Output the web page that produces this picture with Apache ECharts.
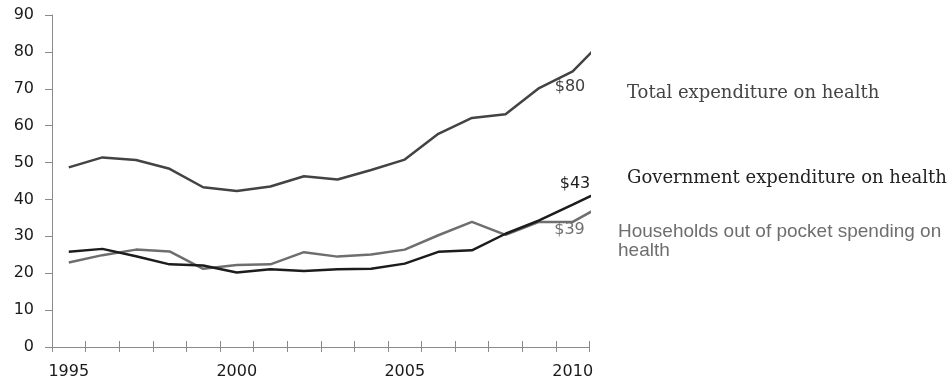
<!DOCTYPE html>
<html>
<head>
<meta charset="utf-8">
<script src="https://cdn.jsdelivr.net/npm/echarts@6/dist/echarts.min.js"></script>
<style>html,body{margin:0;padding:0;background:#fff}#c{width:950px;height:381px}</style>
</head>
<body>
<div id="c"></div>
<script>
// Data
var years = [1995,1996,1997,1998,1999,2000,2001,2002,2003,2004,2005,2006,2007,2008,2009,2010,2011];
var axisCategories = ['1995','1996','1997','1998','1999','2000','2001','2002','2003','2004','2005','2006','2007','2008','2009','2010'];
var totalExpenditure = [48.7,51.4,50.7,48.3,43.3,42.3,43.5,46.3,45.4,48.0,50.8,57.8,62.1,63.1,70.2,74.7,84.0];
var governmentExpenditure = [25.8,26.6,24.6,22.4,22.1,20.2,21.1,20.6,21.1,21.2,22.6,25.8,26.2,30.7,34.3,38.6,43.0];
var householdsSpending = [22.9,24.9,26.4,25.9,21.2,22.2,22.4,25.7,24.5,25.1,26.4,30.3,33.9,30.4,33.9,33.9,39.0];
var yTicks = [0,10,20,30,40,50,60,70,80,90];

function pairs(vals){ return years.map(function(y,i){ return [y, vals[i]]; }); }

var chart = echarts.init(document.getElementById('c'), null, {renderer:'canvas'});
var axisGray = '#8a8a8a';
chart.setOption({
  animation: false,
  backgroundColor: '#ffffff',
  grid: { left: 52, top: 15, right: 360.5, bottom: 34, containLabel: false },
  xAxis: [
    {
      type: 'category', data: axisCategories, position: 'bottom', boundaryGap: true,
      axisLine: { show: true, lineStyle: { color: axisGray, width: 1 } },
      axisTick: { show: true, inside: false, length: 5, interval: 0, lineStyle: { color: axisGray } },
      axisLabel: { show: true, interval: 4, margin: 17, color: '#1a1a1a', fontFamily: 'DejaVu Sans', fontSize: 16 },
      splitLine: { show: false }
    },
    {
      type: 'category', data: axisCategories, position: 'bottom', boundaryGap: true, offset: 0,
      axisLine: { show: false },
      axisTick: { show: true, inside: true, length: 6, interval: 0, lineStyle: { color: axisGray } },
      axisLabel: { show: false },
      splitLine: { show: false }
    },
    {
      type: 'value', min: 1994.5, max: 2010.5, show: false, position: 'bottom',
      splitLine: { show: false }
    }
  ],
  yAxis: {
    type: 'value', min: yTicks[0], max: yTicks[yTicks.length-1], interval: 10,
    axisLine: { show: true, lineStyle: { color: axisGray, width: 1 } },
    axisTick: { show: true, inside: false, length: 7, lineStyle: { color: axisGray } },
    axisLabel: { margin: 18, color: '#1a1a1a', fontFamily: 'DejaVu Sans', fontSize: 16 },
    splitLine: { show: false }
  },
  series: [
    { name: 'Total expenditure on health', type: 'line', xAxisIndex: 2, data: pairs(totalExpenditure),
      symbol: 'none', clip: true, lineStyle: { color: '#434343', width: 2.5 } },
    { name: 'Households out of pocket spending on health', type: 'line', xAxisIndex: 2, data: pairs(householdsSpending),
      symbol: 'none', clip: true, lineStyle: { color: '#6e6e6e', width: 2.5 } },
    { name: 'Government expenditure on health', type: 'line', xAxisIndex: 2, data: pairs(governmentExpenditure),
      symbol: 'none', clip: true, lineStyle: { color: '#1c1c1c', width: 2.5 } }
  ],
  graphic: [
    { type: 'text', style: { text: '$80', x: 570, y: 87, textAlign: 'center', textVerticalAlign: 'middle', font: '16px "DejaVu Sans"', fill: '#404040' } },
    { type: 'text', style: { text: '$43', x: 575, y: 184, textAlign: 'center', textVerticalAlign: 'middle', font: '16px "DejaVu Sans"', fill: '#1a1a1a' } },
    { type: 'text', style: { text: '$39', x: 569.5, y: 230, textAlign: 'center', textVerticalAlign: 'middle', font: '16px "DejaVu Sans"', fill: '#707070' } },
    { type: 'text', style: { text: 'Total expenditure on health', x: 627, y: 93, textAlign: 'left', textVerticalAlign: 'middle', font: '18px "DejaVu Serif"', fill: '#444444' } },
    { type: 'text', style: { text: 'Government expenditure on health', x: 627, y: 178, textAlign: 'left', textVerticalAlign: 'middle', font: '18px "DejaVu Serif"', fill: '#222222' } },
    { type: 'text', style: { text: 'Households out of pocket spending on', x: 618, y: 231.5, textAlign: 'left', textVerticalAlign: 'middle', font: '19px "Liberation Sans"', fill: '#6e6e6e' } },
    { type: 'text', style: { text: 'health', x: 618, y: 250.5, textAlign: 'left', textVerticalAlign: 'middle', font: '19px "Liberation Sans"', fill: '#6e6e6e' } }
  ]
});
</script>
</body>
</html>
